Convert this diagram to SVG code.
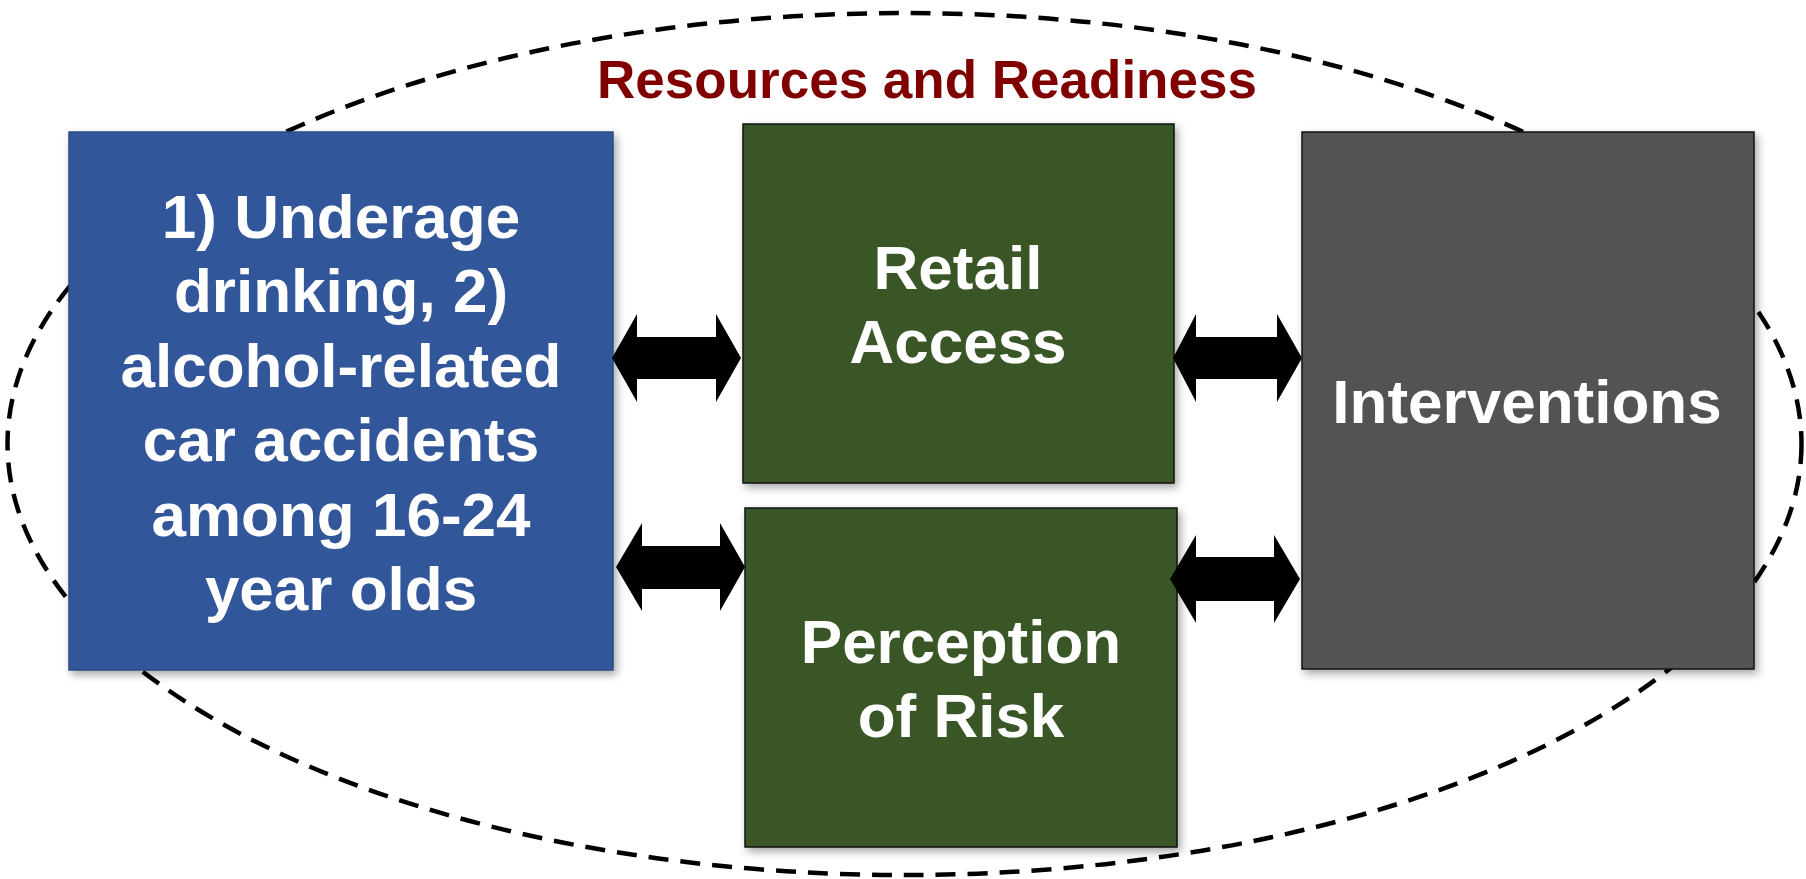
<svg xmlns="http://www.w3.org/2000/svg" width="1806" height="879" viewBox="0 0 1806 879">
<defs>
<filter id="sh" x="-10%" y="-10%" width="125%" height="125%">
<feDropShadow dx="3" dy="4" stdDeviation="4" flood-color="#000" flood-opacity="0.35"/>
</filter>
<style>
.lbl{font-family:"Liberation Sans",Arial,sans-serif;font-weight:bold;font-size:62px;fill:#fff;text-anchor:middle}
.title{font-family:"Liberation Sans",Arial,sans-serif;font-weight:bold;font-size:53px;fill:#800000;text-anchor:middle}
.arr{fill:#000}
</style>
</defs>
<rect width="1806" height="879" fill="#fff"/>
<g id="boundary">
<ellipse cx="904.5" cy="444" rx="897" ry="431" fill="none" stroke="#000" stroke-width="4.5" stroke-dasharray="20 12"/>
<text class="title" x="927" y="98">Resources and Readiness</text>
</g>
<g id="problem">
<rect x="69" y="132" width="544" height="538" fill="#30569A" stroke="#2A4C86" stroke-width="1.5" filter="url(#sh)"/>
<text class="lbl" x="341" y="238">1) Underage</text>
<text class="lbl" x="341" y="312">drinking, 2)</text>
<text class="lbl" x="341" y="387">alcohol-related</text>
<text class="lbl" x="341" y="461">car accidents</text>
<text class="lbl" x="341" y="536">among 16-24</text>
<text class="lbl" x="341" y="610">year olds</text>
</g>
<g id="retail">
<rect x="743" y="124" width="431" height="359" fill="#3B5727" stroke="#111" stroke-width="1.5" filter="url(#sh)"/>
<text class="lbl" x="958" y="289">Retail</text>
<text class="lbl" x="958" y="363">Access</text>
</g>
<g id="perception">
<rect x="745" y="508" width="432" height="339" fill="#3B5727" stroke="#111" stroke-width="1.5" filter="url(#sh)"/>
<text class="lbl" x="961" y="663">Perception</text>
<text class="lbl" x="961" y="737">of Risk</text>
</g>
<g id="interventions">
<rect x="1302" y="132" width="452" height="537" fill="#525252" stroke="#111" stroke-width="1.5" filter="url(#sh)"/>
<text class="lbl" x="1527" y="423">Interventions</text>
</g>
<g id="connectors">
<polygon class="arr" points="612,358 637,314 637,337 716,337 716,314 741,358 716,402 716,379 637,379 637,402"/>
<polygon class="arr" points="616,567 642,523 642,546 720,546 720,523 745,567 720,611 720,589 642,589 642,611"/>
<polygon class="arr" points="1173,358 1196,314 1196,337 1277,337 1277,314 1302,358 1277,402 1277,379 1196,379 1196,402"/>
<polygon class="arr" points="1170,579 1196,535 1196,557 1274,557 1274,535 1300,579 1274,623 1274,601 1196,601 1196,623"/>
</g>
</svg>
